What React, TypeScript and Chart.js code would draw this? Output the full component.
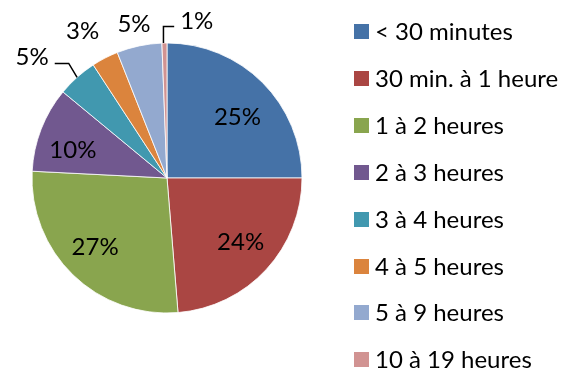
import React, { useEffect, useRef } from "react";
import { Chart, registerables } from "chart.js";

Chart.register(...registerables);

const categories = [
  "< 30 minutes",
  "30 min. à 1 heure",
  "1 à 2 heures",
  "2 à 3 heures",
  "3 à 4 heures",
  "4 à 5 heures",
  "5 à 9 heures",
  "10 à 19 heures",
];
const values = [25, 23.7, 27.1, 10.2, 4.8, 3.2, 5.4, 0.6];
const percentLabels = ["25%", "24%", "27%", "10%", "5%", "3%", "5%", "1%"];
const colors = [
  "#4572A7",
  "#AA4643",
  "#89A54E",
  "#71588F",
  "#4198AF",
  "#DB843D",
  "#93A9CF",
  "#D19392",
];

// label placement relative to each slice: radius factor and angular shift (deg)
const labelPlacement = [
  { k: 0.695, da: 3.7, leader: "" },
  { k: 0.72, da: -1.9, leader: "" },
  { k: 0.733, da: 2.5, leader: "" },
  { k: 0.73, da: -4.1, leader: "" },
  { k: 1.345, da: -6.2, leader: "elbow" },
  { k: 1.262, da: -2.3, leader: "" },
  { k: 1.169, da: -0.2, leader: "" },
  { k: 1.191, da: 11.75, leader: "vertical" },
];

const FONT_FAMILY = "Lato, 'Open Sans', sans-serif";
const FONT_SIZE = 24;
const CAP = 0.7165;

const labelPlugin = {
  id: "sliceLabels",
  afterDraw(chart: any) {
    const ctx = chart.ctx;
    const meta = chart.getDatasetMeta(0);
    ctx.save();
    ctx.font = `${FONT_SIZE}px ${FONT_FAMILY}`;
    ctx.fillStyle = "#000";
    ctx.textAlign = "center";
    ctx.textBaseline = "alphabetic";
    const capH = FONT_SIZE * CAP;
    meta.data.forEach((arc: any, i: number) => {
      const p = arc.getProps(["x", "y", "startAngle", "endAngle", "outerRadius"], true);
      const mid = (p.startAngle + p.endAngle) / 2;
      const pl = labelPlacement[i];
      const a = mid + (pl.da * Math.PI) / 180;
      const lx = p.x + p.outerRadius * pl.k * Math.cos(a);
      const ly = p.y + p.outerRadius * pl.k * Math.sin(a);
      const text = percentLabels[i];
      ctx.fillText(text, lx, ly + capH / 2);
      const w = ctx.measureText(text).width;
      const ex = p.x + p.outerRadius * Math.cos(mid);
      const ey = p.y + p.outerRadius * Math.sin(mid);
      ctx.strokeStyle = "#000";
      ctx.lineWidth = 1.5;
      if (pl.leader === "elbow") {
        const right = lx + w / 2;
        const yl = ly + 7;
        ctx.beginPath();
        ctx.moveTo(ex, ey);
        ctx.lineTo(right + 20, yl);
        ctx.lineTo(right + 6, yl);
        ctx.stroke();
      } else if (pl.leader === "vertical") {
        const left = lx - w / 2;
        const yl = ly + 6.5;
        ctx.beginPath();
        ctx.moveTo(ex - 1, ey);
        ctx.lineTo(ex - 1, yl);
        ctx.lineTo(left - 6, yl);
        ctx.stroke();
      }
    });
    ctx.restore();
  },
};

const legendPlugin = {
  id: "sideLegend",
  afterDraw(chart: any) {
    const ctx = chart.ctx;
    ctx.save();
    ctx.font = `${FONT_SIZE}px ${FONT_FAMILY}`;
    ctx.textAlign = "left";
    ctx.textBaseline = "alphabetic";
    const capH = FONT_SIZE * CAP;
    const x0 = 354;
    const y0 = 31.5;
    const step = 46.9;
    const box = 15;
    categories.forEach((c, i) => {
      const cy = y0 + i * step;
      ctx.fillStyle = colors[i];
      ctx.fillRect(x0, Math.round(cy - box / 2), box, box);
      ctx.fillStyle = "#000";
      ctx.fillText(c, x0 + 21, cy + capH / 2);
    });
    ctx.restore();
  },
};

export default function App() {
  const ref = useRef<HTMLCanvasElement | null>(null);
  useEffect(() => {
    if (!ref.current) return;
    const chart = new Chart(ref.current, {
      type: "pie",
      data: {
        labels: categories,
        datasets: [
          {
            data: values,
            backgroundColor: colors,
            borderColor: "#ffffff",
            borderWidth: 0.8,
            hoverOffset: 0,
            radius: 135,
          } as any,
        ],
      },
      options: {
        responsive: false,
        animation: false,
        layout: { padding: { left: 32, top: 43, right: 276, bottom: 59 } },
        plugins: {
          legend: { display: false },
          tooltip: { enabled: false },
        },
      },
      plugins: [labelPlugin, legendPlugin],
    });
    return () => chart.destroy();
  }, []);
  return (
    <div style={{ position: "fixed", left: 0, top: 0, width: 578, height: 372, background: "#fff" }}>
      <canvas ref={ref} width={578} height={372} style={{ display: "block" }} />
    </div>
  );
}
